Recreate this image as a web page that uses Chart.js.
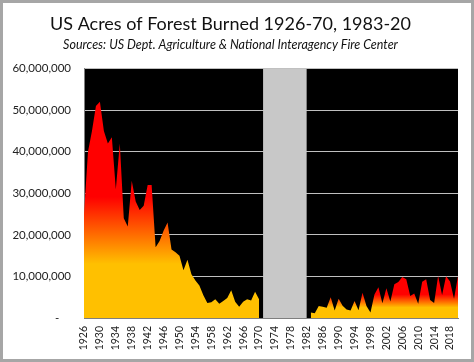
<!DOCTYPE html>
<html>
<head>
<meta charset="utf-8">
<script src="https://cdn.jsdelivr.net/npm/chart.js@4.4.1/dist/chart.umd.min.js"></script>
<style>
	html, body { margin: 0; padding: 0; background: #fff; }
	#wrap { width: 474px; height: 362px; position: relative; }
</style>
</head>
<body>
<div id="wrap"><canvas id="myChart" width="474" height="362"></canvas></div>
<script>
// year labels 1926 - 2020
const firstYear = 1926;
const lastYear = 2020;
const years = [];
for (let y = firstYear; y <= lastYear; y++) {
	years.push(String(y));
}

// acres burned 1926-1970 (USDA)
const earlyYears = [1926, 1970];
const acresEarly = [
	25000000, 40000000, 45000000, 51000000, 52000000, 45000000, 42000000, 43500000, 31000000, 42000000,
	24000000, 22000000, 33000000, 28000000, 26000000, 27000000, 32000000, 32000000, 17000000, 18500000,
	21000000, 23000000, 16500000, 15800000, 15000000, 11500000, 14000000, 10500000, 9000000, 7800000,
	5500000, 3600000, 3800000, 4500000, 3400000, 4100000, 4800000, 6700000, 3900000, 2700000,
	3900000, 4500000, 4200000, 6300000, 4500000,
];

// acres burned 1983-2020 (NIFC)
const recentYears = [1983, 2020];
const acresRecent = [
	1320000, 1150000, 2900000, 2720000, 2450000, 5010000, 1830000, 4620000, 2950000, 2070000,
	1800000, 4070000, 1840000, 6070000, 2860000, 1330000, 5630000, 7390000, 3570000, 7180000,
	3960000, 8100000, 8690000, 9870000, 9330000, 5290000, 5920000, 3420000, 8710000, 9330000,
	4320000, 3600000, 10130000, 5510000, 10030000, 8770000, 4660000, 10120000,
];

// years with no data (grey band)
const gapYears = [1971, 1982];
const gapValue = 60000000;

const yTicks = [0, 10000000, 20000000, 30000000, 40000000, 50000000, 60000000];

function spread(values, startYear) {
	let out = years.map(() => null);
	for (let i = 0; i < values.length; i++) {
		out[startYear - firstYear + i] = values[i];
	}
	return out;
}

let gapData = years.map((y) => (Number(y) >= gapYears[0] && Number(y) <= gapYears[1] ? gapValue : null));

function fireGradient(max) {
	return function (context) {
		const chart = context.chart;
		const area = chart.chartArea;
		if (!area) {
			return '#FF0000';
		}
		const bottom = chart.scales.y.getPixelForValue(0);
		const top = chart.scales.y.getPixelForValue(max);
		const g = chart.ctx.createLinearGradient(0, bottom, 0, top);
		g.addColorStop(0, '#FFC000');
		g.addColorStop(0.25, '#FFC000');
		g.addColorStop(0.56, '#FF0000');
		g.addColorStop(1, '#FF0000');
		return g;
	};
}

const plotBackground = {
	id: 'plotBackground',
	beforeDraw(chart) {
		const { ctx, chartArea } = chart;
		ctx.save();
		ctx.fillStyle = '#000000';
		ctx.fillRect(chartArea.left, chartArea.top, chartArea.right - chartArea.left, chartArea.bottom - chartArea.top);
		ctx.restore();
	},
	afterDraw(chart) {
		const ctx = chart.ctx;
		ctx.save();
		ctx.strokeStyle = '#a6a6a6';
		ctx.lineWidth = 3;
		ctx.strokeRect(1.5, 1.5, chart.width - 3, chart.height - 3);
		ctx.restore();
	},
};

const data = {
	labels: years,
	datasets: [
		{
			label: 'No data',
			data: gapData,
			backgroundColor: '#C8C8C8',
			borderWidth: 0,
			pointRadius: 0,
			fill: 'origin',
			tension: 0,
		},
		{
			label: '1926-70',
			data: spread(acresEarly, earlyYears[0]),
			backgroundColor: fireGradient(Math.max(...acresEarly)),
			borderWidth: 0,
			pointRadius: 0,
			fill: 'origin',
			tension: 0,
		},
		{
			label: '1983-20',
			data: spread(acresRecent, recentYears[0]),
			backgroundColor: fireGradient(Math.max(...acresRecent)),
			borderWidth: 0,
			pointRadius: 0,
			fill: 'origin',
			tension: 0,
		},
	],
};

const config = {
	type: 'line',
	data: data,
	plugins: [plotBackground],
	options: {
		responsive: false,
		animation: false,
		layout: { padding: { top: 3, left: 3, right: 16, bottom: 3 } },
		plugins: {
			legend: { display: false },
			tooltip: { enabled: false },
			title: {
				display: true,
				text: 'US Acres of Forest Burned 1926-70, 1983-20',
				color: '#111',
				font: { family: 'Lato', size: 18, weight: 'normal' },
				padding: { top: 10, bottom: 0 },
			},
			subtitle: {
				display: true,
				text: 'Sources: US Dept. Agriculture & National Interagency Fire Center',
				color: '#111',
				font: { family: 'Lato', size: 12.5, style: 'italic' },
				padding: { top: 3, bottom: 16 },
			},
		},
		scales: {
			x: {
				offset: false,
				grid: { display: false, drawTicks: false },
				border: { display: true, color: '#7f7f7f' },
				afterFit: (s) => {
					s.height = 41;
				},
				ticks: {
					autoSkip: false,
					maxRotation: 90,
					minRotation: 90,
					padding: 8,
					color: '#222',
					font: { family: 'Lato', size: 10.5 },
					callback: function (value, index) {
						return index % 4 === 0 ? years[index] : null;
					},
				},
			},
			y: {
				min: 0,
				max: 60000000,
				afterFit: (s) => {
					s.width = 81;
				},
				afterBuildTicks: (s) => {
					s.ticks = yTicks.map((v) => ({ value: v }));
				},
				grid: { color: '#bfbfbf', drawTicks: false, lineWidth: 1 },
				border: { display: true, color: '#7f7f7f' },
				ticks: {
					padding: 13,
					color: '#222',
					font: { family: 'Lato', size: 11.5 },
					callback: (v) => (v === 0 ? '-    ' : v.toLocaleString('en-US')),
				},
			},
		},
	},
};

const myChart = new Chart(document.getElementById('myChart'), config);
</script>
</body>
</html>
